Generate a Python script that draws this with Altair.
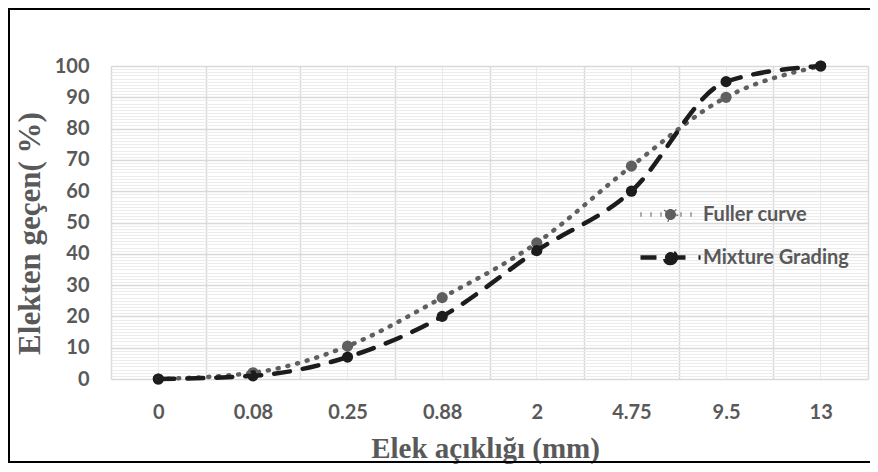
import altair as alt
import pandas as pd

sieves = ["0", "0.08", "0.25", "0.88", "2", "4.75", "9.5", "13"]
fuller = [0, 2, 10.5, 26, 43.5, 68, 90, 100]
mixture = [0, 1, 7, 20, 41, 60, 95, 100]
series_names = ["Fuller curve", "Mixture Grading"]
series_colors = ["#5f5f5f", "#1c1c1c"]
series_dash = [[1, 9], [16, 13]]

major_y = list(range(0, 101, 10))
minor_y = [v for v in range(0, 101) if v % 10 != 0]

rows = []
for s, vals in zip(series_names, [fuller, mixture]):
    for k, v in zip(sieves, vals):
        rows.append({"sieve": k, "pct": v, "series": s})
df = pd.DataFrame(rows)

GRAY = "#595959"
LABEL_FONT = "Lato"
TITLE_FONT = "Liberation Serif"

xscale = alt.Scale(type="band", domain=sieves, paddingInner=0, paddingOuter=0)
yscale = alt.Scale(domain=[0, 100], nice=False, zero=True)

sym_path = "M-1,0L5,0M2.55,0A0.55,0.55 0 1 1 1.45,0A0.55,0.55 0 1 1 2.55,0"
legend = alt.Legend(
    title=None, orient="none", legendX=527, legendY=136, direction="vertical",
    symbolType=sym_path, symbolSize=400, symbolStrokeWidth=4.5,
    labelFont=LABEL_FONT, labelFontSize=20, labelFontWeight="bold", labelColor=GRAY,
    labelOffset=40, rowPadding=14, labelLimit=400,
)

# minor grid layer
minor = alt.Chart(df).mark_point(opacity=0).encode(
    x=alt.X("sieve:N", scale=xscale, sort=sieves,
            axis=alt.Axis(orient="top", grid=True, gridColor="#e9e9e9", gridWidth=1,
                          labels=False, ticks=False, domain=False, title=None)),
    y=alt.Y("pct:Q", scale=yscale,
            axis=alt.Axis(orient="right", values=minor_y, grid=True, gridColor="#ececec",
                          gridWidth=1, labels=False, ticks=False, domain=False, title=None)),
)

lines = alt.Chart(df).mark_line(interpolate="monotone", strokeWidth=4.5, strokeCap="round").encode(
    x=alt.X("sieve:N", scale=xscale, sort=sieves,
            axis=alt.Axis(tickBand="extent", grid=True, gridColor="#d9d9d9", gridWidth=1.5,
                          domain=False, ticks=False, tickSize=0, labelAngle=0,
                          labelFont=LABEL_FONT, labelFontSize=20, labelFontWeight="bold",
                          labelColor=GRAY, labelPadding=33, labelBaseline="middle",
                          title="Elek açıklığı (mm)", titleFont=TITLE_FONT, titleFontSize=29,
                          titleFontWeight="bold", titleColor=GRAY, titleX=374, titleY=69,
                          titleBaseline="middle", titleAlign="center")),
    y=alt.Y("pct:Q", scale=yscale,
            axis=alt.Axis(values=major_y, grid=True, gridColor="#d9d9d9", gridWidth=1.5,
                          domain=False, ticks=False, tickSize=0,
                          labelFont=LABEL_FONT, labelFontSize=20, labelFontWeight="bold",
                          labelColor=GRAY, labelPadding=22, labelBaseline="middle",
                          title="Elekten geçen( %)", titleFont=TITLE_FONT, titleFontSize=31,
                          titleFontWeight="bold", titleColor=GRAY, titleX=-81, titleY=167,
                          titleAngle=270, titleBaseline="middle", titleAlign="center")),
    stroke=alt.Stroke("series:N", scale=alt.Scale(domain=series_names, range=series_colors), legend=legend),
    strokeDash=alt.StrokeDash("series:N", scale=alt.Scale(domain=series_names, range=series_dash), legend=legend),
    detail="series:N",
)

points = alt.Chart(df).mark_circle(size=125, opacity=1).encode(
    x=alt.X("sieve:N", scale=xscale, sort=sieves, axis=None),
    y=alt.Y("pct:Q", scale=yscale, axis=None),
    fill=alt.Fill("series:N", scale=alt.Scale(domain=series_names, range=series_colors), legend=legend),
)

frame = alt.Chart(pd.DataFrame({"a": [0]})).mark_rect(
    filled=False, stroke="black", strokeWidth=2
).encode(x=alt.value(-102), x2=alt.value(770), y=alt.value(-57), y2=alt.value(396))

chart = alt.layer(minor, points, lines, frame).resolve_axis(
    x="independent", y="independent"
).properties(
    width=757, height=313,
    autosize=alt.AutoSizeParams(type="none"),
    padding={"left": 103, "top": 58, "right": 2, "bottom": 85},
).configure_view(stroke=None)

chart.save("out.html", embed_options={"renderer": "svg", "actions": False})
